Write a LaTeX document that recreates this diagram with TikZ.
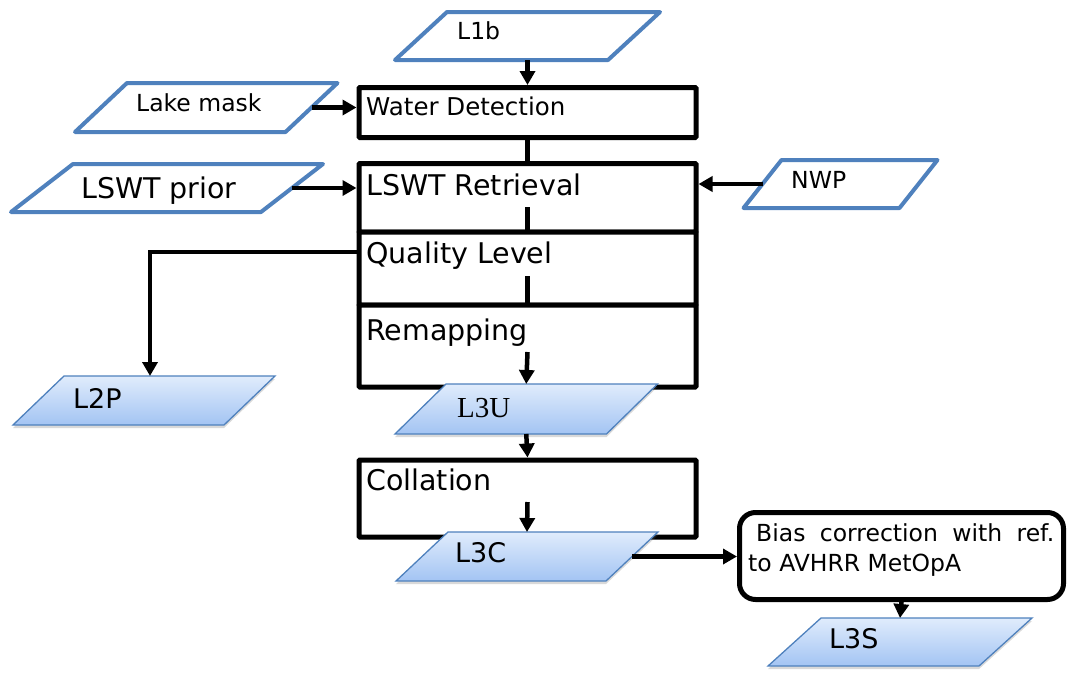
\documentclass[tikz,border=0pt]{standalone}
\usepackage{fontspec}
\setmainfont{DejaVu Sans}
\newfontfamily\serifL{Liberation Serif}
\usetikzlibrary{arrows.meta,shadows}
\definecolor{pblue}{RGB}{79,129,189}
\definecolor{shtop}{RGB}{224,236,252}
\definecolor{shbot}{RGB}{163,196,243}
\newcommand{\fsmall}{\fontsize{23.5}{27}\selectfont}
\newcommand{\fwd}{\fontsize{24.5}{28}\selectfont}
\newcommand{\fbig}{\fontsize{28.5}{33}\selectfont}
\newcommand{\fout}{\fontsize{27}{31}\selectfont}
% #1 style, #2 name, #3 centre, #4 width, #5 height, #6 half slant
\newcommand{\pgram}[6]{%
  \node[pgnode, minimum width=#4, minimum height=#5] (#2) at #3 {};
  \path[#1] ([xshift=#6]#2.north west) -- ([xshift=#6]#2.north east)
     -- ([xshift=-#6]#2.south east) -- ([xshift=-#6]#2.south west) -- cycle;
}
\tikzset{
  pgnode/.style={inner sep=0pt, outer sep=0pt},
  inpara/.style={draw=pblue, fill=white, line width=4pt, line join=round},
  outpara/.style={draw=pblue, line width=1.3pt, top color=shtop, bottom color=shbot,
     drop shadow={shadow xshift=0pt, shadow yshift=-3pt, opacity=0.25, fill=black!60}},
  blk/.style={draw, line width=5pt, fill=white, inner sep=0pt, minimum width=337, rounded corners=1pt},
  biasbox/.style={draw, line width=5pt, fill=white, inner sep=0pt, rounded corners=16pt},
  txt/.style={inner sep=0pt, anchor=base west},
  con/.style={line width=4.5pt},
  arr/.style={line width=4.5pt, -{Triangle[length=14pt,width=15pt]}},
}
\begin{document}
\begin{tikzpicture}[x=1pt,y=-1pt]
\useasboundingbox (0,0) rectangle (1068,678);

% process boxes
\node[blk, minimum height=50] (wd) at (527.5,112.5) {};
\node[blk, minimum height=68.5] (ret) at (527.5,197.75) {};
\node[blk, minimum height=73] (ql) at (527.5,268.5) {};
\node[blk, minimum height=82] (rm) at (527.5,346) {};
\node[blk, minimum height=77] (col) at (527.5,498.5) {};
\node[biasbox, minimum width=324, minimum height=87] (bias) at (901.5,556) {};

% input parallelograms
\pgram{inpara}{l1b}{(527.5,36)}{213}{48}{26}
\pgram{inpara}{lake}{(206.25,107.5)}{210.5}{49}{26}
\pgram{inpara}{prior}{(167,188)}{250}{48}{31}
\pgram{inpara}{nwp}{(840.5,184)}{156}{48}{19}

% output parallelograms
\pgram{outpara}{l2p}{(144,400.5)}{211}{49}{25.5}
\pgram{outpara}{l3u}{(526.25,409)}{211.5}{50}{25.5}
\pgram{outpara}{l3c}{(527,556.5)}{210}{49}{26}
\pgram{outpara}{l3s}{(900,642)}{211}{48}{26.5}

% texts
\node[txt] (tl1b) at (457,39) {\fsmall L1b};
\node[txt] (tlake) at (136,111) {\fsmall Lake mask};
\node[txt] (tprior) at (81,198) {\fbig LSWT prior};
\node[txt] (tnwp) at (791,188) {\fsmall NWP};
\node[txt] (twd) at (366,115) {\fwd Water Detection};
\node[txt] (tret) at (366,195) {\fbig LSWT Retrieval};
\node[txt] (tql) at (366,263) {\fbig Quality Level};
\node[txt] (trm) at (366,340) {\fbig Remapping};
\node[txt] (tcol) at (366,490) {\fbig Collation};
\node[txt] (tl2p) at (73,408) {\fout L2P};
\node[txt] (tl3u) at (457,417) {\serifL\fontsize{29}{34}\selectfont L3U};
\node[txt] (tl3c) at (455,562) {\fout L3C};
\node[txt] (tl3s) at (829,648) {\fout L3S};
\node[txt] (tb1) at (756,541) {\fsmall\makebox[298pt][s]{Bias correction with ref.}};
\node[txt] (tb2) at (748,571) {\fsmall to AVHRR MetOpA};

% inner coordinates
\coordinate (retin) at (527.5,207);
\coordinate (qlin) at (527.5,276);
\coordinate (rmin) at (527.5,352);
\coordinate (colin) at (527.5,502);

% connectors
\draw[arr] (l1b.south) -- (wd.north);
\draw[arr] (lake.east) -- (lake.east -| wd.west);
\draw[con] (wd.south) -- (ret.north);
\draw[arr] (prior.east) -- (prior.east -| ret.west);
\draw[arr] (nwp.west) -- (nwp.west -| ret.east);
\draw[con] (retin) -- (ql.north);
\draw[con] (qlin) -- (rm.north);
\draw[arr] (rmin) -- (l3u.north);
\draw[arr] ([yshift=16.5pt]ql.west) -| ([xshift=6pt]l2p.north);
\draw[arr] (l3u.south) -- (col.north);
\draw[arr] (colin) -- (l3c.north);
\draw[arr] (l3c.east) -- (l3c.east -| bias.west);
\draw[arr] (bias.south) -- (l3s.north);
\end{tikzpicture}
\end{document}
